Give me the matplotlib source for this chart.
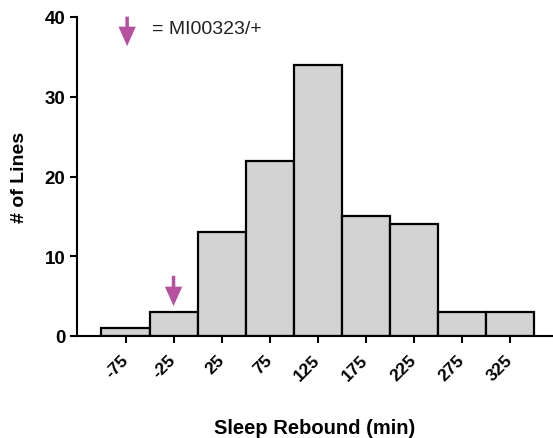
import numpy as np
import matplotlib.pyplot as plt

plt.rcParams['font.family'] = ['Liberation Sans', 'DejaVu Sans']

# Data
bin_centers = [-75, -25, 25, 75, 125, 175, 225, 275, 325]
counts = [1, 3, 13, 22, 34, 15, 14, 3, 3]
tick_labels = ['-75', '-25', '25', '75', '125', '175', '225', '275', '325']
marked_bin = -25
legend_text = '= MI00323/+'

arrow_color = '#b5519f'
bar_color = '#d3d3d3'

fig = plt.figure(figsize=(5.53, 4.39), dpi=100)
ax = fig.add_axes([77 / 553, 1 - 337 / 439, 1 - 77 / 553, (337 - 18) / 439])

ax.bar(bin_centers, counts, width=50, color=bar_color, edgecolor='black', linewidth=1.6)

ax.set_xlim(-125.5, 370)
ax.set_ylim(0, 40)
ax.set_yticks([0, 10, 20, 30, 40])
ax.set_xticks(bin_centers)
ax.set_xticklabels(tick_labels, rotation=45, ha='right', va='center',
                   rotation_mode='anchor', fontsize=12.5, fontweight='bold')
ax.tick_params(axis='y', labelsize=13.5, width=1.5, length=5)
for lab in ax.get_yticklabels():
    lab.set_fontweight('bold')
ax.tick_params(axis='x', width=1.5, length=5, pad=10)

for side in ['top', 'right']:
    ax.spines[side].set_visible(False)
for side in ['left', 'bottom']:
    ax.spines[side].set_linewidth(1.5)
ax.spines['left'].set_bounds(0, 40)

ax.set_xlabel('Sleep Rebound (min)', fontsize=14.5, fontweight='bold', labelpad=25)
ax.set_ylabel('# of Lines', fontsize=14, fontweight='bold', labelpad=12)

# arrow above the marked bin
marked_count = counts[bin_centers.index(marked_bin)]
arrow_style = 'simple,head_length=1.4,head_width=1.25,tail_width=0.25'
ax.annotate('', xy=(marked_bin, marked_count + 0.4), xytext=(marked_bin, marked_count + 4.9),
            arrowprops=dict(arrowstyle=arrow_style, color=arrow_color, mutation_scale=10, lw=0),
            annotation_clip=False)

# legend arrow and label
ax.annotate('', xy=(-73.3, 36.0), xytext=(-73.3, 40.4),
            arrowprops=dict(arrowstyle=arrow_style, color=arrow_color, mutation_scale=10, lw=0),
            annotation_clip=False)
ax.text(-47, 38.5, legend_text, fontsize=14, va='center', ha='left', color='#222222')

fig.savefig('out.png', dpi=100)
